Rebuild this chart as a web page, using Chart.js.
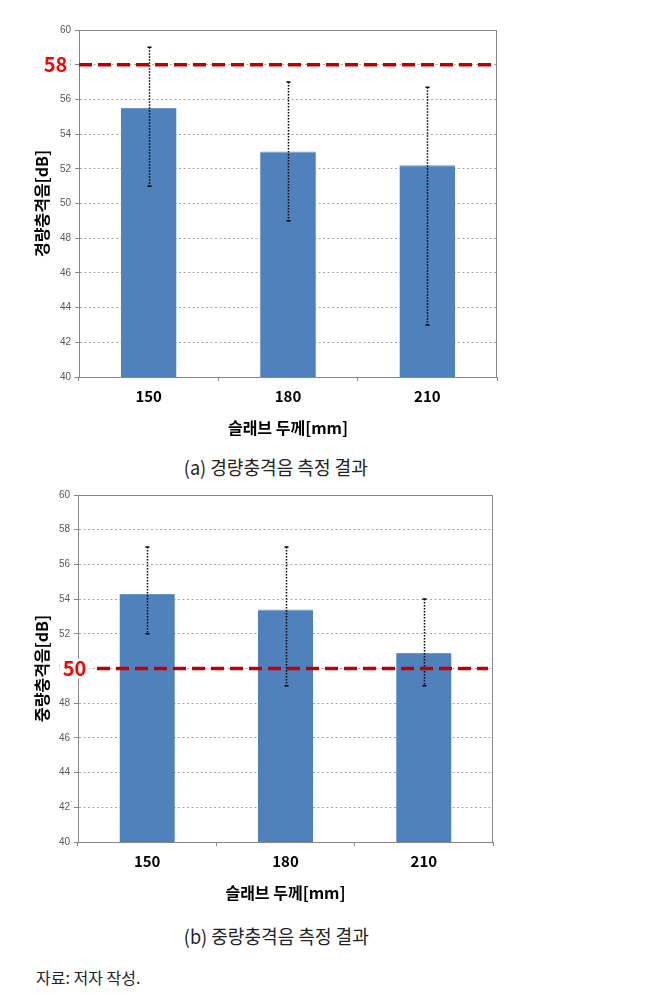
<!DOCTYPE html>
<html>
<head>
<meta charset="utf-8">
<script src="https://cdn.jsdelivr.net/npm/chart.js@4"></script>
<style>
  body { margin: 0; background: #fff; width: 649px; height: 1002px; position: relative; overflow: hidden; }
  .box { position: absolute; left: 0; width: 649px; }
  .cap { position: absolute; left: 0; width: 552px; text-align: center; font-family: 'Noto Sans CJK KR', sans-serif; color: #222; }
  .cap span { display: inline-block; transform: scaleX(0.95); white-space: nowrap; }
</style>
</head>
<body>
<div class="box" style="top:0;height:445px"><canvas id="chartLight" width="649" height="445"></canvas></div>
<div class="cap" style="top:452px;font-size:19px;line-height:30px"><span>(a) 경량충격음 측정 결과</span></div>
<div class="box" style="top:480px;height:430px"><canvas id="chartHeavy" width="649" height="430"></canvas></div>
<div class="cap" style="top:921px;font-size:19px;line-height:30px"><span>(b) 중량충격음 측정 결과</span></div>
<div class="cap" style="top:964px;left:36px;width:auto;text-align:left;font-size:16px;line-height:26px"><span style="transform:none">자료: 저자 작성.</span></div>
<script>
const categories = ['150', '180', '210'];

// (a) 경량충격음
const lightMean = [55.5, 53.0, 52.2];
const lightMax = [59.0, 57.0, 56.7];
const lightMin = [51.0, 49.0, 43.0];
const lightLimit = 58;

// (b) 중량충격음
const heavyMean = [54.3, 53.4, 50.9];
const heavyMax = [57.0, 57.0, 54.0];
const heavyMin = [52.0, 49.0, 49.0];
const heavyLimit = 50;

const yMin = 40, yMax = 60, yStep = 2;

const fontKR = 'Noto Sans CJK KR';
const axisGrey = '#868686';

// 테두리 + 오차막대 + 기준선
const extrasPlugin = {
    id: 'extras',
    beforeDatasetsDraw(chart) {
        const { ctx, chartArea: a } = chart;
        ctx.save();
        ctx.strokeStyle = axisGrey;
        ctx.lineWidth = 1;
        ctx.strokeRect(a.left + 0.5, a.top + 0.5, a.right - a.left - 1, a.bottom - a.top);
        ctx.restore();
    },
    afterDatasetsDraw(chart, args, opts) {
        const { ctx, chartArea: a, scales: { y } } = chart;
        const meta = chart.getDatasetMeta(0);
        ctx.save();
        // error bars
        ctx.strokeStyle = '#000';
        ctx.lineWidth = 1.5;
        meta.data.forEach((bar, i) => {
            const x = Math.round(bar.x) + 0.5;
            const yh = y.getPixelForValue(opts.hi[i]);
            const yl = y.getPixelForValue(opts.lo[i]);
            ctx.setLineDash([1.5, 1.5]);
            ctx.beginPath();
            ctx.moveTo(x, yh);
            ctx.lineTo(x, yl);
            ctx.stroke();
            ctx.setLineDash([]);
            ctx.beginPath();
            ctx.moveTo(x - 2, yh); ctx.lineTo(x + 2, yh);
            ctx.moveTo(x - 2, yl); ctx.lineTo(x + 2, yl);
            ctx.stroke();
        });
        // limit label (covers the grey tick label)
        const yl = y.getPixelForValue(opts.limit);
        ctx.font = 'bold 20px "' + fontKR + '"';
        const w = ctx.measureText(String(opts.limit)).width;
        ctx.fillStyle = '#fff';
        ctx.fillRect(opts.labelX - w / 2 - 3, yl - 10, w + 6, 20);
        ctx.fillStyle = '#FF0000';
        ctx.textAlign = 'center';
        ctx.textBaseline = 'middle';
        ctx.fillText(String(opts.limit), opts.labelX, yl);
        // limit line
        ctx.strokeStyle = '#C00000';
        ctx.lineWidth = 3.5;
        ctx.setLineDash([13, 6]);
        ctx.beginPath();
        ctx.moveTo(a.left + opts.lineStart, yl);
        ctx.lineTo(a.right - opts.lineEnd, yl);
        ctx.stroke();
        ctx.restore();
    }
};

function makeChart(id, mean, hi, lo, limit, yTitle, pad, yWidth, lineStart, lineEnd, labelX) {
    return new Chart(document.getElementById(id), {
        type: 'bar',
        data: {
            labels: categories,
            datasets: [{
                data: mean,
                backgroundColor: '#4F81BD',
                borderColor: '#6B95CB',
                borderWidth: { top: 1, left: 0, right: 0, bottom: 0 },
                categoryPercentage: 1,
                barPercentage: 0.4
            }]
        },
        options: {
            responsive: false,
            animation: false,
            layout: { padding: pad },
            plugins: {
                legend: { display: false },
                tooltip: { enabled: false },
                extras: { hi: hi, lo: lo, limit: limit, lineStart: lineStart, lineEnd: lineEnd, labelX: labelX }
            },
            scales: {
                x: {
                    grid: { offset: true, drawOnChartArea: false, tickLength: 4, color: axisGrey },
                    border: { color: axisGrey },
                    ticks: { color: '#000', padding: 6, font: { family: fontKR, size: 15, weight: 'bold' } },
                    title: { display: true, text: '슬래브 두께[mm]', color: '#000', padding: { top: 0, bottom: 7 },
                             font: { family: fontKR, size: 16, weight: 'bold' } },
                    afterFit: s => { s.height = 68; }
                },
                y: {
                    min: yMin, max: yMax,
                    ticks: { stepSize: yStep, color: '#595959', padding: 4, font: { family: 'Liberation Sans', size: 10 } },
                    grid: {
                        tickLength: 4,
                        tickColor: axisGrey,
                        color: c => (c.tick.value === yMin || c.tick.value === yMax) ? 'rgba(0,0,0,0)' : '#A6A6A6'
                    },
                    border: { color: axisGrey, dash: [2, 2.5] },
                    title: { display: true, text: yTitle, color: '#000', padding: { top: 32, bottom: 0 },
                             font: { family: fontKR, size: 16, weight: 'bold' } },
                    afterFit: s => { s.width = yWidth; }
                }
            }
        },
        plugins: [extrasPlugin]
    });
}

makeChart('chartLight', lightMean, lightMax, lightMin, lightLimit, '경량충격음[dB]',
    { left: 0, top: 30, right: 152, bottom: 0 }, 79, 0, 0, 55.5);
makeChart('chartHeavy', heavyMean, heavyMax, heavyMin, heavyLimit, '중량충격음[dB]',
    { left: 0, top: 15, right: 156, bottom: 0 }, 78, 19, 5, 74.5);
</script>
</body>
</html>
